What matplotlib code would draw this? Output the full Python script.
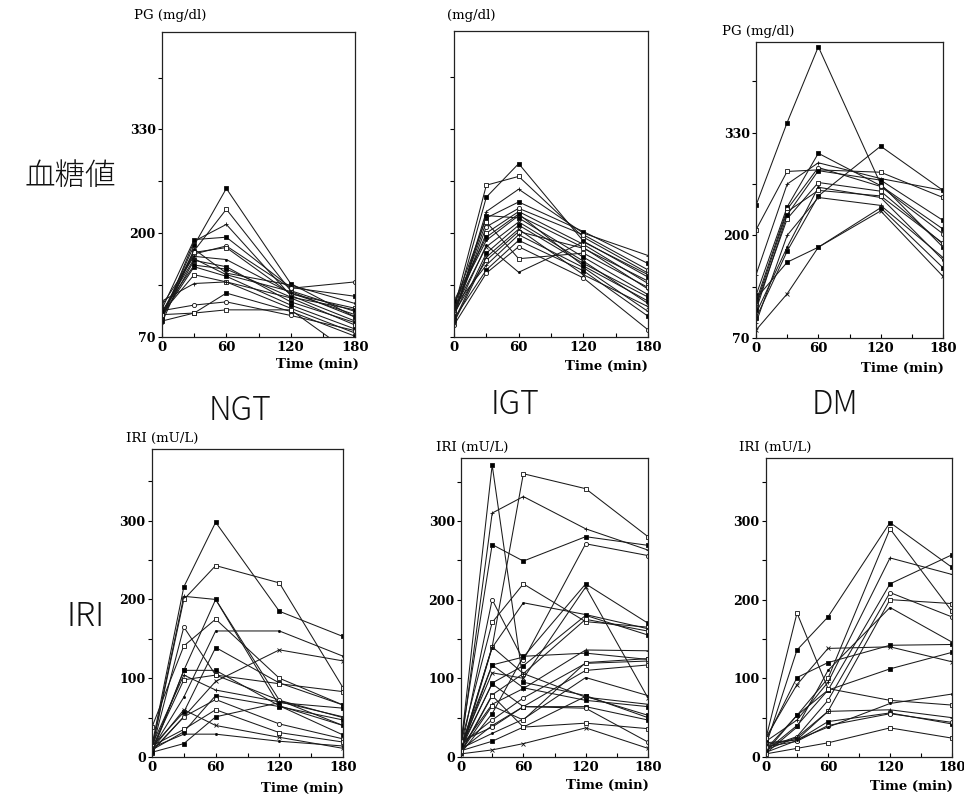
import matplotlib
matplotlib.use("Agg")
import matplotlib.pyplot as plt
from matplotlib.ticker import FixedLocator

times = [0, 30, 60, 120, 180]

# Plasma glucose (mg/dl), one row per subject
pg_ngt = [
    [95, 185, 256, 137, 95],
    [100, 178, 230, 128, 102],
    [92, 190, 211, 122, 90],
    [105, 192, 195, 132, 121],
    [98, 174, 184, 131, 139],
    [96, 176, 182, 124, 106],
    [110, 171, 167, 125, 98],
    [94, 166, 158, 114, 88],
    [101, 168, 148, 127, 95],
    [97, 158, 146, 110, 80],
    [100, 148, 139, 119, 85],
    [115, 137, 139, 106, 75],
    [90, 100, 125, 102, 71],
    [103, 110, 114, 97, 78],
    [98, 100, 104, 104, 46],
    [88, 180, 150, 135, 112],
    [102, 160, 155, 120, 104],
]
pg_igt = [
    [100, 245, 287, 190, 145],
    [105, 260, 271, 195, 150],
    [95, 227, 255, 200, 172],
    [110, 219, 239, 202, 162],
    [98, 208, 231, 198, 154],
    [102, 200, 227, 186, 137],
    [112, 191, 222, 182, 130],
    [96, 222, 219, 170, 123],
    [104, 183, 214, 165, 112],
    [90, 175, 210, 162, 120],
    [100, 166, 202, 181, 140],
    [108, 160, 198, 157, 102],
    [93, 154, 191, 153, 96],
    [85, 150, 183, 144, 79],
    [101, 214, 168, 175, 132],
    [97, 185, 151, 189, 148],
    [115, 195, 224, 159, 115],
    [88, 170, 205, 148, 108],
]
pg_dm = [
    [238, 343, 439, 265, 185],
    [207, 281, 283, 280, 248],
    [150, 265, 292, 272, 257],
    [124, 236, 304, 263, 208],
    [116, 233, 286, 262, 202],
    [110, 221, 267, 256, 189],
    [101, 185, 261, 248, 169],
    [95, 180, 250, 313, 257],
    [80, 126, 185, 231, 148],
    [120, 166, 185, 235, 159],
    [112, 230, 257, 250, 190],
    [89, 200, 248, 238, 172],
    [105, 226, 282, 270, 219],
]

# Immunoreactive insulin (mU/L), one row per subject
iri_ngt = [
    [15, 216, 298, 185, 153],
    [10, 200, 243, 221, 88],
    [12, 204, 200, 72, 40],
    [8, 110, 200, 65, 28],
    [9, 165, 104, 72, 50],
    [38, 141, 175, 100, 66],
    [10, 76, 160, 160, 128],
    [13, 57, 139, 94, 66],
    [8, 51, 96, 136, 122],
    [5, 110, 110, 65, 40],
    [11, 98, 104, 93, 83],
    [15, 104, 85, 70, 51],
    [9, 32, 78, 64, 47],
    [7, 51, 73, 42, 23],
    [14, 35, 60, 31, 19],
    [12, 29, 29, 20, 14],
    [6, 17, 51, 69, 62],
    [10, 60, 40, 25, 11],
]
iri_igt = [
    [15, 371, 95, 78, 50],
    [10, 140, 360, 341, 280],
    [12, 310, 331, 290, 263],
    [20, 270, 249, 280, 269],
    [8, 200, 123, 271, 256],
    [18, 171, 220, 172, 165],
    [6, 139, 196, 181, 163],
    [9, 117, 127, 220, 170],
    [14, 107, 100, 216, 75],
    [10, 94, 116, 180, 155],
    [7, 79, 106, 175, 160],
    [12, 67, 87, 136, 135],
    [5, 55, 128, 132, 124],
    [16, 47, 75, 119, 122],
    [9, 40, 64, 110, 117],
    [11, 30, 48, 101, 78],
    [8, 20, 38, 77, 53],
    [4, 9, 17, 37, 11],
    [13, 93, 64, 64, 47],
    [6, 78, 38, 43, 36],
    [10, 140, 106, 76, 67],
    [15, 117, 88, 72, 64],
    [20, 38, 64, 62, 19],
    [7, 65, 47, 120, 125],
]
iri_dm = [
    [15, 136, 178, 298, 241],
    [10, 53, 100, 290, 185],
    [20, 47, 95, 253, 232],
    [8, 40, 85, 220, 257],
    [12, 26, 72, 209, 178],
    [18, 22, 58, 200, 195],
    [5, 38, 110, 190, 146],
    [22, 101, 120, 142, 143],
    [25, 92, 138, 140, 121],
    [7, 53, 85, 112, 133],
    [24, 183, 87, 72, 66],
    [9, 25, 58, 60, 50],
    [6, 21, 45, 56, 42],
    [13, 20, 40, 55, 44],
    [4, 11, 18, 37, 24],
    [16, 22, 38, 68, 80],
]

group_names = ["NGT", "IGT", "DM"]
row_names = ["血糖値", "IRI"]

W, H = 964, 801
fig = plt.figure(figsize=(W / 100, H / 100), dpi=100)
fig.patch.set_facecolor("white")

SERIF = "DejaVu Serif"
SANS = ["Noto Sans CJK JP", "DejaVu Sans"]


def add_axes_px(left, top, right, bottom):
    return fig.add_axes([left / W, 1 - bottom / H, (right - left) / W, (bottom - top) / H])


# (marker, face colour) cycle for the subject traces
styles = [("s", "k"), ("s", "white"), ("+", "k"), ("s", "k"), ("o", "white"),
          ("s", "white"), (".", "k"), ("s", "k"), ("x", "k")]


def draw_panel(ax, series, ylim, yticks, yminor, ylabels=True):
    for i, vals in enumerate(series):
        m, fc = styles[i % len(styles)]
        ms = 3.0 if m in ("s", "o") else 3.0
        ax.plot(times, vals, color="#1a1a1a", lw=0.75, marker=m, ms=ms,
                mfc=fc, mec="#111111", mew=0.6)
    ax.set_xlim(0, 180)
    ax.set_ylim(*ylim)
    ax.xaxis.set_major_locator(FixedLocator([0, 60, 120, 180]))
    ax.xaxis.set_minor_locator(FixedLocator([30, 90, 150]))
    ax.yaxis.set_major_locator(FixedLocator(yticks))
    ax.yaxis.set_minor_locator(FixedLocator(yminor))
    ax.tick_params(axis="x", which="both", direction="in", length=3, width=0.8, pad=3)
    ax.tick_params(axis="y", which="both", direction="out", length=3, width=0.8, pad=1.5)
    for lab in ax.get_xticklabels():
        lab.set_fontfamily(SERIF)
        lab.set_fontweight("bold")
        lab.set_fontsize(9.5)
    if ylabels:
        ax.set_yticklabels([str(t) for t in yticks])
        for lab in ax.get_yticklabels():
            lab.set_fontfamily(SERIF)
            lab.set_fontweight("bold")
            lab.set_fontsize(9)
    else:
        ax.set_yticklabels([])
    for sp in ax.spines.values():
        sp.set_linewidth(0.9)
        sp.set_color("#222222")


pg_ticks = [70, 200, 330]
pg_minor = [135, 265, 395]
iri_ticks = [0, 100, 200, 300]
iri_minor = [50, 150, 250, 350]

# Top row: plasma glucose
ax1 = add_axes_px(162, 32, 355, 337)
draw_panel(ax1, pg_ngt, (70, 452), pg_ticks, pg_minor)
ax2 = add_axes_px(454, 31, 648, 337)
draw_panel(ax2, pg_igt, (70, 453), pg_ticks, pg_minor, ylabels=False)
ax3 = add_axes_px(756, 42, 943, 338)
draw_panel(ax3, pg_dm, (70, 445), pg_ticks, pg_minor)

# Bottom row: insulin
ax4 = add_axes_px(152, 449, 343, 757)
draw_panel(ax4, iri_ngt, (0, 391), iri_ticks, iri_minor)
ax5 = add_axes_px(461, 458, 648, 757)
draw_panel(ax5, iri_igt, (0, 380), iri_ticks, iri_minor)
ax6 = add_axes_px(766, 458, 952, 757)
draw_panel(ax6, iri_dm, (0, 380), iri_ticks, iri_minor)


def fig_text(x, y, s, **kw):
    fig.text(x / W, 1 - y / H, s, **kw)


unit_kw = dict(family=SERIF, fontsize=9.5, va="center", ha="left")
fig_text(134, 15, "PG (mg/dl)", **unit_kw)
fig_text(447, 15, "(mg/dl)", **unit_kw)
fig_text(722, 32, "PG (mg/dl)", **unit_kw)
fig_text(126, 438, "IRI (mU/L)", **unit_kw)
fig_text(436, 447, "IRI (mU/L)", **unit_kw)
fig_text(739, 447, "IRI (mU/L)", **unit_kw)

time_kw = dict(family=SERIF, fontsize=9.5, fontweight="bold", va="center", ha="right")
fig_text(359, 364, "Time (min)", **time_kw)
fig_text(648, 366, "Time (min)", **time_kw)
fig_text(944, 368, "Time (min)", **time_kw)
fig_text(344, 788, "Time (min)", **time_kw)
fig_text(649, 785, "Time (min)", **time_kw)
fig_text(953, 786, "Time (min)", **time_kw)

big_kw = dict(family=SANS, fontweight="light", va="center", ha="center", color="#111111")
fig_text(70, 176, row_names[0], fontsize=22, **big_kw)
fig_text(86, 617, row_names[1], fontsize=24, **big_kw)
fig_text(240, 411, group_names[0], fontsize=23, **big_kw)
fig_text(515, 405, group_names[1], fontsize=23, **big_kw)
fig_text(835, 405, group_names[2], fontsize=23, **big_kw)

fig.savefig("out.png", dpi=100, facecolor="white")
